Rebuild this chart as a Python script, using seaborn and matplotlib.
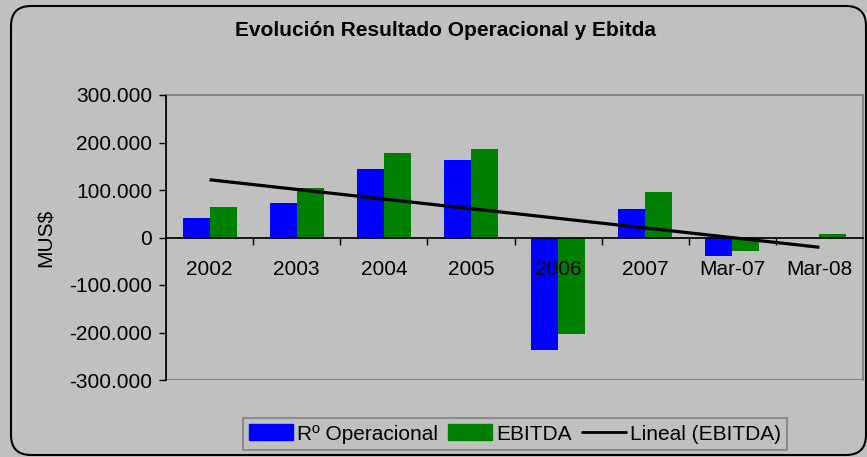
"""
Evolucion Resultado Operacional y Ebitda - bar chart with linear trend
"""

import numpy as np
import pandas as pd
import matplotlib
matplotlib.use("Agg")
import matplotlib.pyplot as plt
import seaborn as sns
from matplotlib.patches import Patch, FancyBboxPatch, Rectangle
from matplotlib.lines import Line2D
from matplotlib.ticker import FixedLocator, FuncFormatter

# ---------------- DATA ----------------
periods = ["2002", "2003", "2004", "2005", "2006", "2007", "Mar-07", "Mar-08"]
r_operacional = [42000, 72000, 145000, 164000, -236000, 59000, -38000, 0]
ebitda = [65000, 105000, 177000, 187000, -204000, 95000, -29000, 8000]
series_names = ["Rº Operacional", "EBITDA"]
yticks = [-300000, -200000, -100000, 0, 100000, 200000, 300000]

# ---------------- STYLE ----------------
BG = "#C0C0C0"
BLUE = "#0000FF"
GREEN = "#008000"
GRID_GREY = "#808080"

sns.set_theme(style="white")
plt.rcParams["font.family"] = ["Liberation Sans", "DejaVu Sans"]
plt.rcParams["text.color"] = "black"
plt.rcParams["xtick.color"] = "black"
plt.rcParams["ytick.color"] = "black"
plt.rcParams["xtick.labelcolor"] = "black"
plt.rcParams["ytick.labelcolor"] = "black"

df = pd.DataFrame({
    "period": periods * 2,
    "serie": [series_names[0]] * len(periods) + [series_names[1]] * len(periods),
    "value": r_operacional + ebitda,
})

fig = plt.figure(figsize=(8.67, 4.57), dpi=100, facecolor=BG)
ax = fig.add_axes([166 / 867, 1 - 380 / 457, 697 / 867, 285 / 457])
ax.set_facecolor(BG)

sns.barplot(data=df, x="period", y="value", hue="serie", order=periods,
            hue_order=series_names, palette=[BLUE, GREEN], width=0.62,
            gap=0, saturation=1, linewidth=0, legend=False, ax=ax)

# linear trend of EBITDA
xs = np.arange(len(periods))
slope, icpt = np.polyfit(xs, ebitda, 1)
ax.plot(xs, slope * xs + icpt, color="black", lw=2.3, solid_capstyle="butt",
        zorder=3)

# ---------------- AXES ----------------
ax.set_axisbelow(False)  # labels drawn on top of the bars (see 2006)
ax.set_xlim(-0.5, len(periods) - 0.5)
ax.set_ylim(-300000, 300000)
ax.set_xlabel("")
ax.set_ylabel("")

ax.yaxis.set_major_locator(FixedLocator(yticks))
ax.yaxis.set_major_formatter(FuncFormatter(lambda v, p: f"{v:,.0f}".replace(",", ".")))
ax.tick_params(axis="y", direction="out", length=5, width=1, color="black",
               labelsize=15, pad=5, left=True)

# x axis on the zero line, ticks between categories, labels at centres
ax.spines["bottom"].set_position(("data", 0))
ax.spines["bottom"].set_color("black")
ax.spines["left"].set_color("black")
ax.spines["top"].set_color(GRID_GREY)
ax.spines["right"].set_color(GRID_GREY)
ax.xaxis.set_major_locator(FixedLocator(np.arange(0.5, len(periods) - 0.5, 1)))
ax.xaxis.set_major_formatter(FuncFormatter(lambda v, p: ""))
ax.set_xticks(xs, labels=periods, minor=True)
ax.tick_params(axis="x", which="major", direction="out", length=5, width=1,
               color="black", bottom=True)
ax.tick_params(axis="x", which="minor", length=0, labelsize=15, pad=16)

# grey frame along the bottom of the plot area
ax.add_patch(Rectangle((0, 0), 1, 1, transform=ax.transAxes, fill=False,
                       edgecolor=GRID_GREY, lw=1.5, zorder=0.5))

# ---------------- TEXT ----------------
fig.text(0.514, 1 - 31 / 457, "Evolución Resultado Operacional y Ebitda",
         ha="center", va="center", fontsize=15, fontweight="bold")
fig.text(45 / 867, 1 - 238 / 457, "MUS$", rotation=90, ha="center",
         va="center", fontsize=15)

# ---------------- LEGEND ----------------
handles = [Patch(facecolor=BLUE, edgecolor=BLUE),
           Patch(facecolor=GREEN, edgecolor=GREEN),
           Line2D([], [], color="black", lw=2)]
leg = fig.legend(handles, series_names + ["Lineal (EBITDA)"], ncol=3,
                 loc="center", bbox_to_anchor=(515 / 867, 1 - 434 / 457),
                 fontsize=15, frameon=True, fancybox=False, facecolor=BG,
                 edgecolor=GRID_GREY, handlelength=2.1, handleheight=0.8,
                 handletextpad=0.2, columnspacing=0.5, borderpad=0.3,
                 borderaxespad=0)
leg.get_frame().set_linewidth(1.5)

# rounded chart border
fig.patches.append(FancyBboxPatch((0.11, 0.02), 8.55, 4.49,
                                  boxstyle="round,pad=0,rounding_size=0.2",
                                  transform=fig.dpi_scale_trans, fill=False,
                                  edgecolor="black", lw=1.5))

fig.savefig("out.png", dpi=100, facecolor=BG)
